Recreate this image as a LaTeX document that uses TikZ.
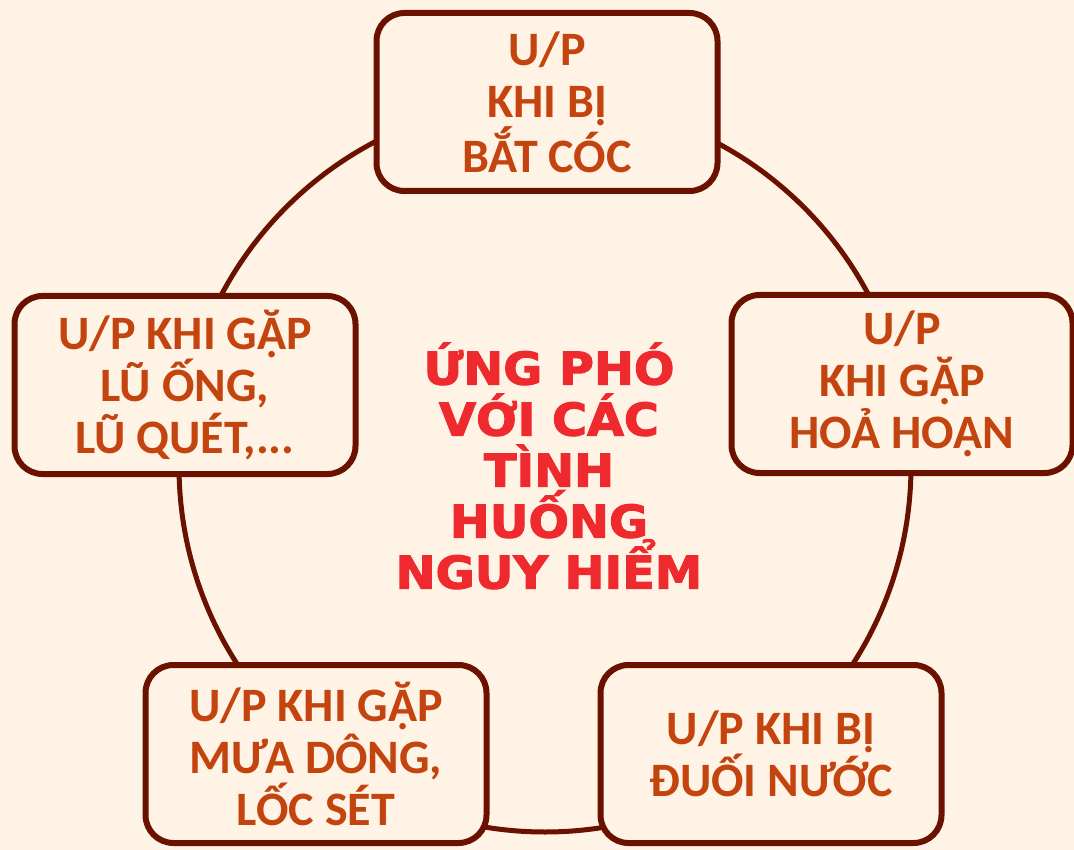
\documentclass[tikz,border=0pt]{standalone}
\usepackage{fontspec}
\setmainfont{Carlito}
\newfontfamily\titlefont[BoldFont={DejaVu Sans Bold},BoldFeatures={FakeBold=2.5,FakeStretch=1.06}]{DejaVu Sans}

\definecolor{bgcream}{HTML}{FEF3E4}
\definecolor{rimbrown}{HTML}{6A1100}
\definecolor{textrust}{HTML}{C3440F}
\definecolor{titlered}{HTML}{EE2A2F}

\tikzset{
	casebox/.style={draw=rimbrown, line width=6pt, rounded corners=28pt, fill=bgcream,
		text=textrust, font=\fontsize{48}{52}\selectfont\bfseries, align=center,
		minimum width=341pt, minimum height=178pt, inner sep=0pt},
	hubtext/.style={text=titlered, font=\titlefont\fontsize{45}{51}\selectfont\bfseries, align=center}
}

\begin{document}
\begin{tikzpicture}[x=1pt,y=-1pt]

	% Background
	\fill[bgcream] (0,0) rectangle (1074,850);
	\useasboundingbox (0,0) rectangle (1074,850);

	% Ring behind the boxes
	\coordinate (hub) at (545,466);
	\draw[rimbrown, line width=5pt] (hub) circle (366pt);

	% Centre title
	\node[hubtext] (title) at (549,466) {ỨNG PHÓ\\VỚI CÁC\\TÌNH\\HUỐNG\\NGUY HIỂM};

	% Situation boxes
	\node[casebox] (kidnap) at (547,102) {U/P\\KHI BỊ\\BẮT CÓC};
	\node[casebox] (fire) at (902,384) {U/P\\KHI GẶP\\HOẢ HOẠN};
	\node[casebox] (drown) at (771,754) {U/P KHI BỊ\\ĐUỐI NƯỚC};
	\node[casebox] (storm) at (316,754) {U/P KHI GẶP\\MƯA DÔNG,\\LỐC SÉT};
	\node[casebox] (flood) at (185,385) {U/P KHI GẶP\\LŨ ỐNG,\\LŨ QUÉT,...};

\end{tikzpicture}
\end{document}
